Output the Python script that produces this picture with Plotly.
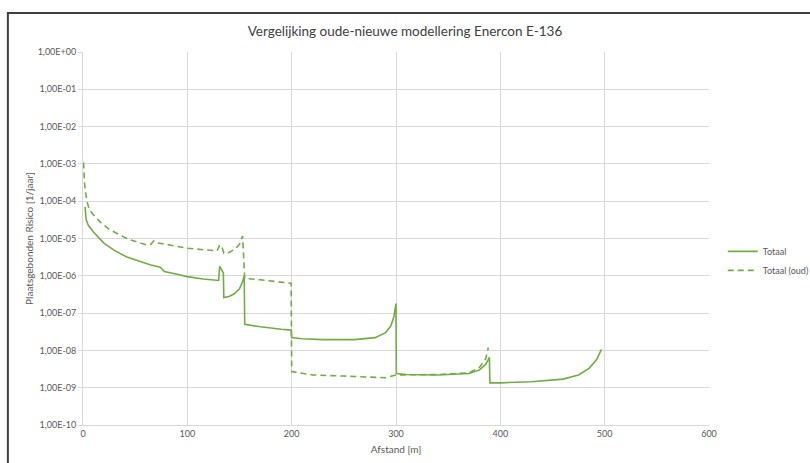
import plotly.graph_objects as go

# Totaal (new model)
x_totaal = [2, 3, 5, 10, 20, 30, 42, 55, 65, 74, 75, 78, 90, 100, 115, 129, 130, 131, 133, 134.5,
            135, 140, 145, 150, 153, 154.5, 155, 170, 190, 199.5, 200, 210, 230, 260, 280, 290,
            295, 298, 300, 300.3, 310, 340, 370, 380, 386, 389.5, 390, 400, 430, 460, 475, 485,
            492, 497]
y_totaal = [7e-5, 3.2e-5, 2.3e-5, 1.5e-5, 7.5e-6, 4.8e-6, 3.2e-6, 2.4e-6, 1.95e-6, 1.7e-6, 1.6e-6,
            1.3e-6, 1.1e-6, 9.5e-7, 8.2e-7, 7.4e-7, 7.5e-7, 1.8e-6, 1.4e-6, 1.2e-6,
            2.6e-7, 2.8e-7, 3.3e-7, 4.5e-7, 7e-7, 1e-6, 5e-8, 4.3e-8, 3.7e-8, 3.5e-8, 2.2e-8,
            2.05e-8, 1.95e-8, 1.95e-8, 2.2e-8, 3e-8, 4.5e-8, 8e-8, 1.8e-7, 2.4e-9, 2.25e-9,
            2.2e-9, 2.4e-9, 3e-9, 4.2e-9, 6.5e-9, 1.35e-9, 1.35e-9, 1.45e-9, 1.7e-9, 2.2e-9,
            3.3e-9, 5.5e-9, 1.07e-8]

# Totaal (oud) (old model)
x_oud = [0.5, 1.5, 3.5, 6, 10, 18, 26, 35, 42, 52, 61, 65, 68, 72, 80, 100, 115, 128.5, 131, 133,
         135, 140, 146, 150, 153, 155, 170, 190, 199.5, 200, 220, 250, 290, 300, 340, 370, 380,
         386, 388.5]
y_oud = [1.1e-3, 3e-4, 1.07e-4, 6e-5, 4.3e-5, 2.5e-5, 1.7e-5, 1.25e-5, 1e-5, 8e-6, 6.7e-6, 7e-6,
         8.7e-6, 7.6e-6, 7e-6, 5.5e-6, 5e-6, 4.7e-6, 6.7e-6, 6.2e-6, 4e-6, 4.2e-6, 5.3e-6, 7e-6,
         1.17e-5, 8.5e-7, 7.8e-7, 6.9e-7, 6.3e-7, 2.7e-9, 2.2e-9, 2.05e-9, 1.85e-9, 2.2e-9,
         2.25e-9, 2.5e-9, 3.5e-9, 6e-9, 1.2e-8]

y_tickvals = [10.0 ** (-k) for k in range(0, 11)]
y_ticktext = ["1,00E+00"] + ["1,00E-%02d" % k for k in range(1, 11)]
x_tickvals = [0, 100, 200, 300, 400, 500, 600]

GREEN = "#70AD47"
TXT = "#595959"
FONT = "Lato, Open Sans, sans-serif"

fig = go.Figure()
fig.add_trace(go.Scatter(x=x_totaal, y=y_totaal, mode="lines", name="Totaal",
                         line=dict(color=GREEN, width=1.6)))
fig.add_trace(go.Scatter(x=x_oud, y=y_oud, mode="lines", name="Totaal (oud)",
                         line=dict(color=GREEN, width=1.6, dash="6px,4px")))

fig.update_layout(
    width=810, height=463,
    margin=dict(l=83, r=101, t=52, b=38, autoexpand=False),
    paper_bgcolor="white", plot_bgcolor="white",
    font=dict(family=FONT, color=TXT, size=9),
    title=dict(text="Vergelijking oude-nieuwe modellering Enercon E-136",
               x=0.5, xanchor="center", y=1 - 31 / 463, yanchor="middle",
               font=dict(size=13.5, color="#404040", family=FONT)),
    legend=dict(x=1.022, xanchor="left", y=0.44, yanchor="middle",
                font=dict(size=9, color=TXT), bgcolor="rgba(0,0,0,0)",
                tracegroupgap=0, itemwidth=30),
    showlegend=True,
)
fig.update_xaxes(range=[0, 600], tickvals=x_tickvals, showgrid=True, gridcolor="#d9d9d9",
                 gridwidth=1, showline=True, linecolor="#d9d9d9", zeroline=False,
                 ticks="", tickfont=dict(size=9, color=TXT), automargin=False,
                 title=dict(text="Afstand [m]", font=dict(size=10, color=TXT), standoff=8))
fig.update_yaxes(type="log", range=[-10, 0], tickvals=y_tickvals, ticktext=y_ticktext,
                 showgrid=True, gridcolor="#d9d9d9", gridwidth=1, showline=True,
                 linecolor="#d9d9d9", zeroline=False, ticks="outside", ticklen=4,
                 tickcolor="#d9d9d9", tickfont=dict(size=9, color=TXT), automargin=False,
                 title=dict(text="Plaatsgebonden Risico [1/jaar]",
                            font=dict(size=10, color=TXT), standoff=2))

# chart-area border (top and left edges visible)
fig.add_shape(type="path", xref="paper", yref="paper",
              path="M -0.12,-0.2 L -0.12,1.1046 L 1.3,1.1046",
              line=dict(color="#404040", width=2), layer="above")

fig.write_html("out.html", config={"displayModeBar": False},
               post_script="document.body.style.margin='0';")
